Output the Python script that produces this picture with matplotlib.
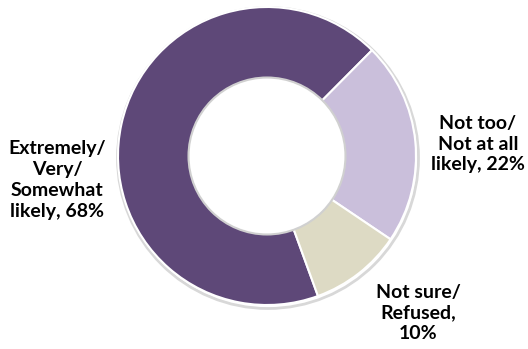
import matplotlib.pyplot as plt
from matplotlib.patches import Circle

plt.rcParams['font.family'] = ['Lato', 'DejaVu Sans']

labels = ['Extremely/\nVery/\nSomewhat\nlikely, 68%', 'Not too/\nNot at all\nlikely, 22%', 'Not sure/\nRefused,\n10%']
values = [68, 22, 10]
colors = ['#5E4878', '#CABFDB', '#DDDAC4']

W, H = 528, 349
fig = plt.figure(figsize=(W / 100, H / 100), dpi=100)
ax = fig.add_axes([0, 0, 1, 1])
ax.set_xlim(0, W)
ax.set_ylim(0, H)
ax.set_aspect('equal')
ax.axis('off')

cx, cy = 267, H - 156
r_out = 149
ring = 0.48 * r_out

# soft shadow around ring
ax.add_patch(Circle((cx + 1, cy - 2), r_out + 1.5, facecolor='none', edgecolor='#d8d8d8', lw=2, zorder=0))

wedges, _ = ax.pie(values, colors=colors, startangle=-70, counterclock=False,
                   center=(cx, cy), radius=r_out,
                   wedgeprops=dict(width=ring, edgecolor='white', linewidth=1.5))
for w in wedges:
    w.set_zorder(1)

ax.add_patch(Circle((cx, cy), r_out - ring + 1, facecolor='none', edgecolor='#d0d0d0', lw=1.5, zorder=2))

ax.set_xlim(0, W)
ax.set_ylim(0, H)

# label positions in pixels (x, y from top)
label_pos = [(57, 180), (478, 144), (418, 313)]
for lab, (x, y) in zip(labels, label_pos):
    ax.text(x, H - y, lab, ha='center', va='center', fontsize=14,
            fontweight='bold', linespacing=1.28, color='black')

fig.savefig('out.png', dpi=100)
